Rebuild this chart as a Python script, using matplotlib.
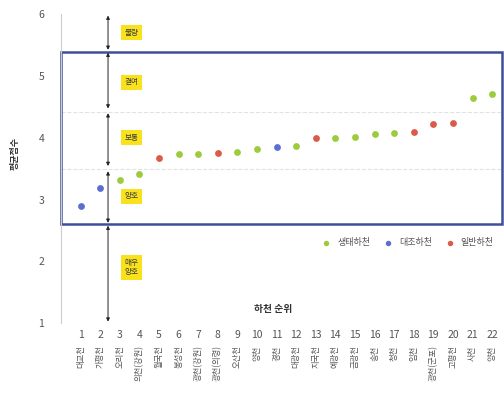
import matplotlib
matplotlib.use("Agg")
import matplotlib.pyplot as plt
from matplotlib.patches import Rectangle

plt.rcParams['font.family'] = ['Noto Sans CJK KR', 'DejaVu Sans']

# 하천 순위별 평균점수
rank = list(range(1, 23))
names = ["대교천", "가평천", "오리천", "의천(강원)", "월국천", "봉성천", "광천(강원)", "광천(의령)",
         "오산천", "양천", "경천", "대광천", "지국천", "예광천", "금광천", "송천",
         "청천", "임천", "광천(군포)", "고평천", "사천", "양천"]
score = [2.89, 3.18, 3.32, 3.42, 3.68, 3.74, 3.74, 3.75, 3.77, 3.82, 3.85, 3.87,
         4.00, 4.00, 4.02, 4.06, 4.08, 4.10, 4.23, 4.24, 4.65, 4.70]
kind = ["대조", "대조", "생태", "생태", "일반", "생태", "생태", "일반", "생태", "생태", "대조", "생태",
        "일반", "생태", "생태", "생태", "생태", "일반", "일반", "일반", "생태", "생태"]

grades = ["불량", "결여", "보통", "양호", "매우\n양호"]
grade_top = [6.0, 5.4, 4.42, 3.48, 2.6]
grade_bot = [5.4, 4.45, 3.52, 2.6, 1.0]
grade_y = [5.7, 4.9, 4.0, 3.05, 1.9]

colors = {"생태": "#9ccc3c", "대조": "#5a6fd0", "일반": "#dc5a48"}
labels = {"생태": "생태하천", "대조": "대조하천", "일반": "일반하천"}

fig = plt.figure(figsize=(5.04, 3.94), dpi=100)
ax = fig.add_axes([0.121, 0.180, 0.875, 0.784])

# 등급 구간 안내선
ax.axhline(4.42, color="#e2e2e2", lw=0.8, ls="--", zorder=1)
ax.axhline(3.5, color="#e2e2e2", lw=0.8, ls="--", zorder=1)

ax.add_patch(Rectangle((0, 2.6), 22.5, 2.78, fill=False, edgecolor="#3d4f9a",
                       lw=1.8, zorder=2, clip_on=False))

for top, bot in zip(grade_top, grade_bot):
    ax.annotate("", xy=(2.4, bot), xytext=(2.4, top),
                arrowprops=dict(arrowstyle="<|-|>", color="#222222", lw=0.7,
                                mutation_scale=5, shrinkA=1, shrinkB=1))
for g, y in zip(grades, grade_y):
    ax.text(3.6, y, g, fontsize=5.5, ha="center", va="center", color="#3a3a3a",
            linespacing=1.3,
            bbox=dict(boxstyle="square,pad=0.45", fc="#f9e21b", ec="none"))

for k in ["생태", "대조", "일반"]:
    xs = [r for r, t in zip(rank, kind) if t == k]
    ys = [s for s, t in zip(score, kind) if t == k]
    ax.scatter(xs, ys, s=24, color=colors[k], label=labels[k], zorder=3, lw=0)

ax.legend(loc="center right", bbox_to_anchor=(1.0, 0.26), ncol=3, frameon=False,
          fontsize=6.5, handletextpad=0.2, columnspacing=1.0, markerscale=0.8,
          labelcolor="#555555")

ax.text(10.8, 1.22, "하천 순위", fontsize=7, fontweight="bold", ha="center",
        va="center", color="#333333")

ax.set_xlim(0, 22.5)
ax.set_ylim(1, 6)
ax.set_yticks([1, 2, 3, 4, 5, 6])
ax.set_xticks(rank)
ax.set_xticklabels([str(r) for r in rank])
ax.tick_params(axis="both", length=0, labelsize=7.5, colors="#555555")
ax.tick_params(axis="y", pad=12)
ax.tick_params(axis="x", pad=5)
for s in ["top", "right", "bottom"]:
    ax.spines[s].set_visible(False)
ax.spines["left"].set_color("#cccccc")

for r, n in zip(rank, names):
    ax.annotate(n, xy=(r, 0), xycoords=("data", "axes fraction"),
                xytext=(0, -16), textcoords="offset points", rotation=90,
                ha="center", va="top", fontsize=6, color="#555555")

fig.text(0.03, 0.61, "평균점수", rotation=90, fontsize=6.5, fontweight="bold",
         ha="center", va="center", color="#333333")

fig.savefig("out.png", dpi=100)
